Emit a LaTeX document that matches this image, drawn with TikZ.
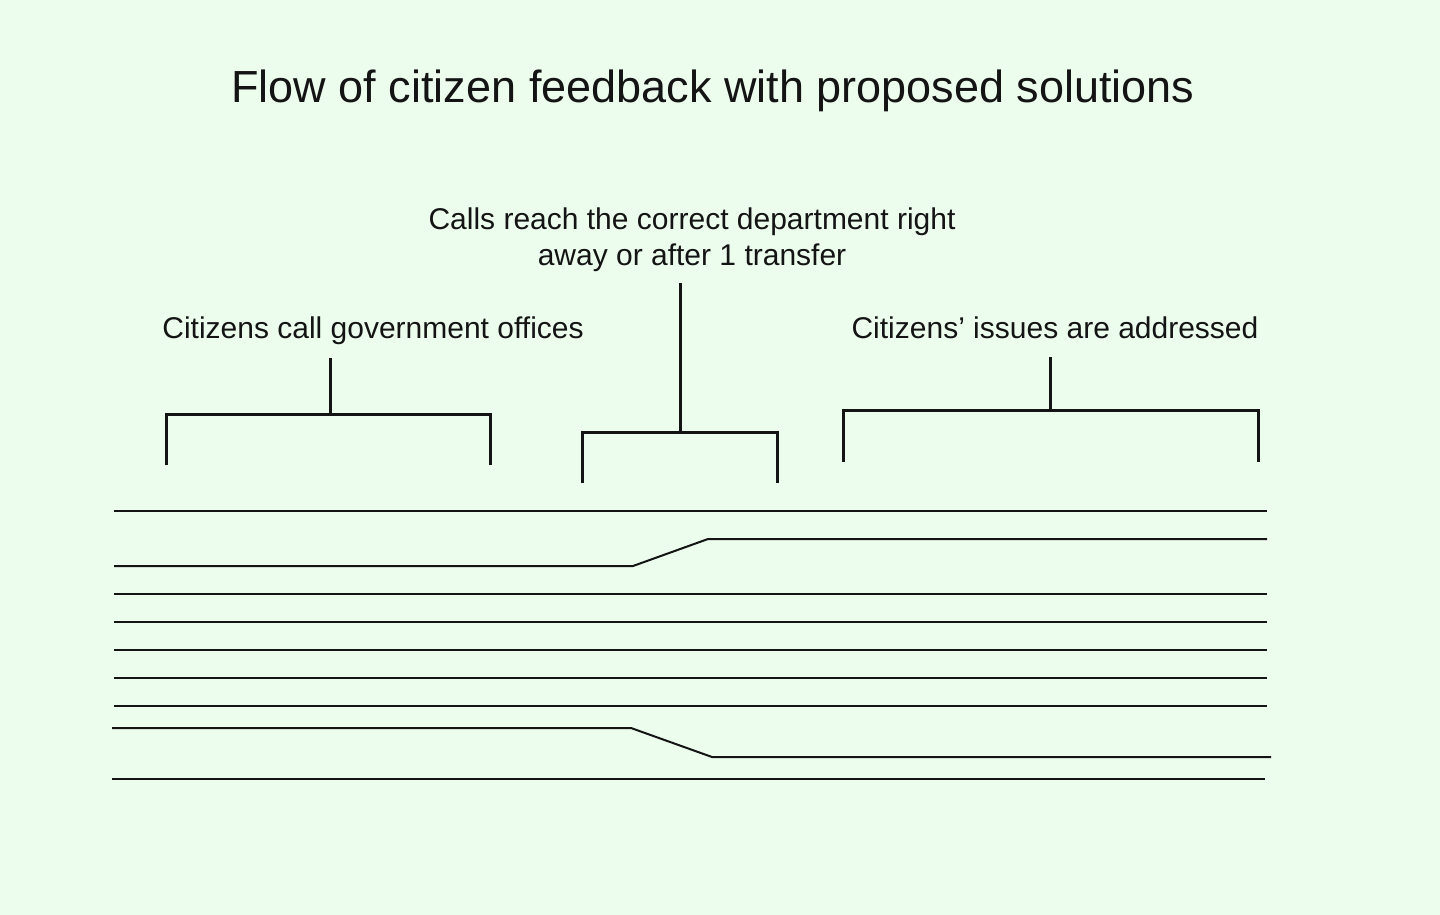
\documentclass[tikz,border=0pt]{standalone}
\usepackage{fontspec}
\setmainfont{Liberation Sans}
\usetikzlibrary{positioning}
\definecolor{mintbg}{RGB}{236,253,238}
\definecolor{inkline}{RGB}{20,20,20}

\begin{document}
\begin{tikzpicture}[
    x=1pt, y=-1pt,
    heading/.style={font=\fontsize{45}{54}\selectfont, text=inkline, inner sep=0pt},
    stage/.style={font=\fontsize{30}{36}\selectfont, text=inkline, align=center, inner sep=0pt},
    bracket/.style={draw=inkline, line width=3pt},
    wire/.style={draw=inkline, line width=2pt}
]

\fill [mintbg] (0,0) rectangle (1440,915);
\useasboundingbox (0,0) rectangle (1440,915);

\node [heading, anchor=base] (title) at (713,103) {Flow of citizen feedback with proposed solutions};

\node [stage, anchor=base] (call) at (373,338) {Citizens call government offices};
\node [stage, anchor=base] (reach) at (692,265) {Calls reach the correct department right\\away or after 1 transfer};
\node [stage, anchor=base] (solved) at (1055,338) {Citizens' issues are addressed};

% bracket ends
\coordinate (callL) at (166,465);
\coordinate (callR) at (490,465);
\coordinate (callM) at (330,414);
\coordinate (callT) at (330,358);
\coordinate (reachL) at (582,483);
\coordinate (reachR) at (777,483);
\coordinate (reachM) at (680,432);
\coordinate (reachT) at (680,283);
\coordinate (solvedL) at (843,462);
\coordinate (solvedR) at (1258,462);
\coordinate (solvedM) at (1050,410);
\coordinate (solvedT) at (1050,357);

\path [bracket] (callL) |- (callM) -| (callR);
\path [bracket] (callT) -- (callM);
\path [bracket] (reachL) |- (reachM) -| (reachR);
\path [bracket] (reachT) -- (reachM);
\path [bracket] (solvedL) |- (solvedM) -| (solvedR);
\path [bracket] (solvedT) -- (solvedM);

% calls
\foreach \y in {511,594,622,650,678,706}
    \path [wire] (114,\y) -- (1267,\y);
\path [wire] (114,566) -- (633,566) -- (708,539) -- (1267,539);
\path [wire] (112,728) -- (631,728) -- (712,757) -- (1271,757);
\path [wire] (112,779) -- (1265,779);

\end{tikzpicture}
\end{document}
